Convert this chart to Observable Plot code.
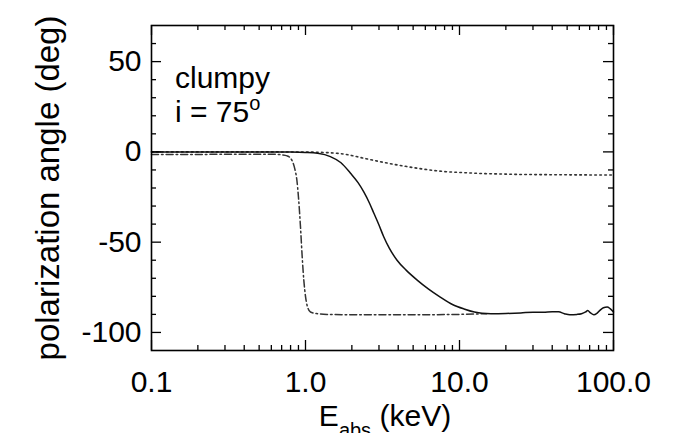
<!DOCTYPE html>
<html>
<head>
<meta charset="utf-8">
<script src="https://cdn.jsdelivr.net/npm/d3@7"></script>
<script src="https://cdn.jsdelivr.net/npm/@observablehq/plot@0.6"></script>
<style>
  html, body { margin: 0; padding: 0; background: #fff; }
  svg { display: block; }
</style>
</head>
<body>
<div id="chart"></div>
<script>
// ---- data ----
const solidE = [0.1, 0.2, 0.5, 0.8, 1.0, 1.2, 1.45, 1.7, 1.96, 2.2, 2.39, 2.6, 2.78, 3.0, 3.22, 3.5, 3.93, 4.5, 5.31, 6.3, 7.5, 9, 10.7, 12.5, 14, 16, 20, 25, 30, 35, 40, 44, 48, 52, 58, 62, 66, 68, 71, 74.5, 78, 82, 86, 91, 95, 100];
const solidV = [0, 0, 0, -0.1, -0.3, -0.8, -2.6, -6, -11.8, -17.2, -22.2, -28.3, -34, -40.5, -47, -53.3, -60, -65.5, -71, -76, -80.4, -84.5, -87, -88.7, -89.4, -89.6, -89.5, -89.2, -88.8, -88.8, -88.5, -88.6, -89.6, -90.2, -90, -89.6, -88.6, -87.9, -89.2, -90.2, -89.4, -87.6, -86.3, -85.9, -86.8, -88.7];

const dotE = [0.1, 0.5, 1.0, 1.45, 1.8, 2.39, 3.0, 3.93, 5, 6.4, 8, 10.7, 14, 17.6, 25, 35, 50, 100];
const dotV = [0, 0, -0.1, -0.5, -1.3, -3.5, -5.3, -7.2, -8.7, -10, -10.9, -11.5, -12, -12.2, -12.5, -12.6, -12.7, -12.8];

const dashDotE = [0.1, 0.2, 0.4, 0.6, 0.7, 0.76, 0.8, 0.82, 0.85, 0.88, 0.9, 0.93, 0.95, 0.975, 1.0, 1.024, 1.077, 1.2, 1.38, 2, 5, 10, 15];
const dashDotV = [-1.5, -1.4, -1.3, -1.3, -1.6, -2.2, -3.5, -5, -9, -16, -25, -43, -57, -71, -80, -85, -88.7, -89.6, -90, -90.2, -90.2, -90, -89.6];

const xMajor = [0.1, 1, 10, 100];
const xTickLabels = ["0.1", "1.0", "10.0", "100.0"];
const xMinor = [0.2, 0.3, 0.4, 0.5, 0.6, 0.7, 0.8, 0.9, 2, 3, 4, 5, 6, 7, 8, 9, 20, 30, 40, 50, 60, 70, 80, 90];
const yMajor = [-100, -50, 0, 50];
const yTickLabels = ["-100", "-50", "0", "50"];
const yMinor = [-90, -80, -70, -60, -40, -30, -20, -10, 10, 20, 30, 40, 60];

const xDomain = [0.1, 100];
const yDomain = [-110, 70];

// ---- layout ----
const W = 676, H = 433;
const mL = 151, mR = 63, mT = 25, mB = 83;
const FONT = "'Liberation Sans', Arial, Helvetica, sans-serif";

const toRows = (E, V) => E.map((e, i) => ({e, v: V[i]}));
const solid = toRows(solidE, solidV);
const dotted = toRows(dotE, dotV);
const dashDot = toRows(dashDotE, dashDotV);

// tick lengths in px converted to data units
const yPerPx = (yDomain[1] - yDomain[0]) / (H - mT - mB);
const decPerPx = Math.log10(xDomain[1] / xDomain[0]) / (W - mL - mR);
const majLen = 10, minLen = 5;
const tickStyle = {stroke: "black", strokeWidth: 1.3};

const xTickRules = (vals, len) => [
  Plot.ruleX(vals, {x: d => d, y1: yDomain[0], y2: yDomain[0] + len * yPerPx, ...tickStyle}),
  Plot.ruleX(vals, {x: d => d, y1: yDomain[1] - len * yPerPx, y2: yDomain[1], ...tickStyle})
];
const yTickRules = (vals, len) => [
  Plot.ruleY(vals, {y: d => d, x1: xDomain[0], x2: xDomain[0] * Math.pow(10, len * decPerPx), ...tickStyle}),
  Plot.ruleY(vals, {y: d => d, x1: xDomain[1] / Math.pow(10, len * decPerPx), x2: xDomain[1], ...tickStyle})
];

const svg = Plot.plot({
  width: W, height: H,
  marginLeft: mL, marginRight: mR, marginTop: mT, marginBottom: mB,
  style: {fontFamily: FONT, fontSize: "30px", color: "black", background: "white"},
  x: {type: "log", domain: xDomain},
  y: {domain: yDomain},
  marks: [
    Plot.line(dotted, {x: "e", y: "v", stroke: "#333", strokeWidth: 1.6, strokeDasharray: "1.6,3.4", curve: "monotone-x"}),
    Plot.line(dashDot, {x: "e", y: "v", stroke: "#333", strokeWidth: 1.5, strokeDasharray: "7,3,1.6,3", curve: "monotone-x"}),
    Plot.line(solid, {x: "e", y: "v", stroke: "#111", strokeWidth: 1.5, curve: "monotone-x"}),
    ...xTickRules(xMajor, majLen),
    ...xTickRules(xMinor, minLen),
    ...yTickRules(yMajor, majLen),
    ...yTickRules(yMinor, minLen),
    Plot.frame({stroke: "black", strokeWidth: 1.6}),
    Plot.axisX(xMajor, {tickSize: 0, tickPadding: 20, fontSize: 30, label: null,
      tickFormat: d => xTickLabels[xMajor.indexOf(d)]}),
    Plot.axisY(yMajor, {tickSize: 0, tickPadding: 10, fontSize: 30, label: null,
      tickFormat: d => yTickLabels[yMajor.indexOf(d)]}),
    Plot.text(["polarization angle (deg)"], {frameAnchor: "left", textAnchor: "middle", rotate: -90, dx: -103, fontSize: 33, fill: "black"})
  ]
});

// text with sub/superscripts
const s = d3.select(svg);
const g = s.append("g").attr("font-family", FONT).attr("font-size", 30).attr("fill", "black");
g.append("text").attr("x", 175).attr("y", 88).attr("text-anchor", "start").text("clumpy");
const t2 = g.append("text").attr("x", 175).attr("y", 122).attr("text-anchor", "start");
t2.append("tspan").text("i = 75");
t2.append("tspan").attr("font-size", 20).attr("dy", -12).text("o");

const xl = g.append("text").attr("x", 385).attr("y", 426).attr("text-anchor", "middle");
xl.append("tspan").text("E");
xl.append("tspan").attr("font-size", 20).attr("dy", 11).text("abs");
xl.append("tspan").attr("dy", -11).text(" (keV)");

document.getElementById("chart").append(svg);
</script>
</body>
</html>
